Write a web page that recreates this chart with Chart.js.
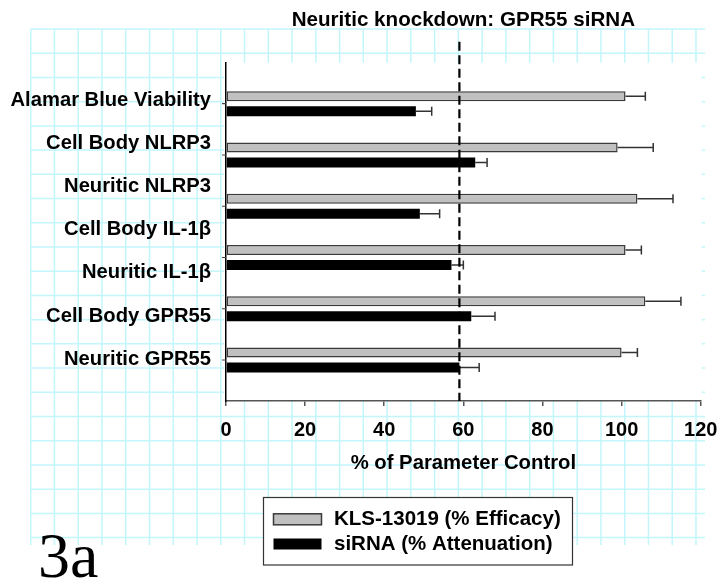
<!DOCTYPE html>
<html>
<head>
<meta charset="utf-8">
<script src="https://cdn.jsdelivr.net/npm/chart.js@4.4.1/dist/chart.umd.min.js"></script>
<style>
html,body{margin:0;padding:0;background:#fff;}
#wrap{width:718px;height:584px;position:relative;}
canvas{display:block;}
</style>
</head>
<body>
<div id="wrap"><canvas id="c" width="718" height="584"></canvas></div>
<script>
// ---- data ----
const categoryLabels = ['Alamar Blue Viability', 'Cell Body NLRP3', 'Neuritic NLRP3', 'Cell Body IL-1\u03B2', 'Neuritic IL-1\u03B2', 'Cell Body GPR55', 'Neuritic GPR55'];
const barGroups = [0, 1, 2, 3, 4, 5];
const klsValues = [101, 99, 104, 101, 106, 100];
const klsErrors = [5, 9, 9, 4, 9, 4];
const sirnaValues = [48, 63, 49, 57, 62, 59];
const sirnaErrors = [4, 3, 5, 3, 6, 5];
const xTicks = [0, 20, 40, 60, 80, 100, 120];
const referenceLine = 59;
const seriesNames = ['KLS-13019 (% Efficacy)', 'siRNA (% Attenuation)'];
const chartTitle = 'Neuritic knockdown: GPR55 siRNA';
const xAxisTitle = '% of Parameter Control';
const panelLabel = '3a';

const FAMILY = '"Liberation Sans", Arial, sans-serif';
const boldFont = (size) => ({ family: FAMILY, size: size, weight: 'bold' });

const errorSets = [klsErrors, sirnaErrors];

const gridBackground = {
  id: 'gridBackground',
  beforeDraw(chart) {
    const ctx = chart.ctx;
    ctx.save();
    ctx.fillStyle = '#ffffff';
    ctx.fillRect(0, 0, chart.width, chart.height);
    ctx.strokeStyle = '#c2f6fb';
    ctx.lineWidth = 1.5;
    const x0 = 30.7, y0 = 29, x1 = 705, y1 = 545, dx = 23.76, dy = 24.22;
    ctx.beginPath();
    for (let x = x0; x <= x1; x += dx) { ctx.moveTo(x, y0); ctx.lineTo(x, y1); }
    for (let y = y0; y <= y1; y += dy) { ctx.moveTo(x0, y); ctx.lineTo(x1, y); }
    ctx.stroke();
    const a = chart.chartArea;
    ctx.fillStyle = '#ffffff';
    ctx.fillRect(a.left - 2, a.top, a.right - a.left + 3, a.bottom - a.top);
    ctx.restore();
  }
};

const overlays = {
  id: 'overlays',
  afterDatasetsDraw(chart) {
    const ctx = chart.ctx;
    const xs = chart.scales.x, ys = chart.scales.y;
    const a = chart.chartArea;
    ctx.save();
    // error bars
    ctx.strokeStyle = '#333';
    ctx.lineWidth = 1.5;
    chart.data.datasets.forEach((ds, d) => {
      const meta = chart.getDatasetMeta(d);
      meta.data.forEach((bar, i) => {
        const v = ds.data[i].x;
        const ex = xs.getPixelForValue(v + errorSets[d][i]);
        ctx.beginPath();
        ctx.moveTo(bar.x, bar.y);
        ctx.lineTo(ex, bar.y);
        ctx.moveTo(ex, bar.y - 4.5);
        ctx.lineTo(ex, bar.y + 4.5);
        ctx.stroke();
      });
    });
    // y tick marks at bar groups
    ctx.strokeStyle = '#444';
    ctx.lineWidth = 1.2;
    ctx.beginPath();
    barGroups.forEach(g => {
      const py = ys.getPixelForValue(g);
      ctx.moveTo(a.left - 4, py);
      ctx.lineTo(a.left, py);
    });
    ctx.stroke();
    // dashed reference line
    const rx = xs.getPixelForValue(referenceLine);
    ctx.strokeStyle = '#000';
    ctx.lineWidth = 2.2;
    ctx.setLineDash([9, 4.5]);
    ctx.beginPath();
    ctx.moveTo(rx, a.top - 21);
    ctx.lineTo(rx, a.bottom);
    ctx.stroke();
    ctx.restore();
  },
  afterDraw(chart) {
    const ctx = chart.ctx;
    ctx.save();
    // legend box
    const bx = 263.5, by = 497.5, bw = 309, bh = 67.5;
    ctx.fillStyle = '#fff';
    ctx.fillRect(bx, by, bw, bh);
    ctx.strokeStyle = '#333';
    ctx.lineWidth = 1.2;
    ctx.strokeRect(bx, by, bw, bh);
    const rows = [519.3, 544];
    chart.data.datasets.forEach((ds, d) => {
      const cy = rows[d];
      ctx.fillStyle = ds.backgroundColor;
      ctx.fillRect(273.5, cy - 5.5, 48, 11);
      if (ds.borderWidth) {
        ctx.strokeStyle = ds.borderColor;
        ctx.lineWidth = 1.5;
        ctx.strokeRect(273.5, cy - 5.5, 48, 11);
      }
      ctx.fillStyle = '#000';
      ctx.font = 'bold 20.5px ' + FAMILY;
      ctx.textBaseline = 'middle';
      ctx.textAlign = 'left';
      ctx.fillText(ds.label, 334, cy);
    });
    // panel label
    ctx.fillStyle = '#000';
    ctx.font = '64px "Liberation Serif", "Times New Roman", serif';
    ctx.textBaseline = 'alphabetic';
    ctx.textAlign = 'left';
    ctx.fillText(panelLabel, 38, 577);
    ctx.restore();
  }
};

new Chart(document.getElementById('c'), {
  type: 'bar',
  data: {
    datasets: [
      {
        label: seriesNames[0],
        data: klsValues.map((v, i) => ({ x: v, y: barGroups[i] })),
        backgroundColor: '#c0c0c0',
        borderColor: '#3a3a3a',
        borderWidth: 1.5,
        borderSkipped: false,
        xAxisID: 'x', yAxisID: 'y'
      },
      {
        label: seriesNames[1],
        data: sirnaValues.map((v, i) => ({ x: v, y: barGroups[i] })),
        backgroundColor: '#000000',
        borderColor: '#000000',
        borderWidth: 0,
        borderSkipped: false,
        xAxisID: 'x', yAxisID: 'y'
      }
    ]
  },
  options: {
    responsive: false,
    animation: false,
    devicePixelRatio: 1,
    indexAxis: 'y',
    categoryPercentage: 0.58,
    barPercentage: 0.67,
    layout: { padding: { left: 0, right: 0, top: 0, bottom: 0 } },
    plugins: {
      legend: { display: false },
      tooltip: { enabled: false },
      title: {
        display: true, text: chartTitle, fullSize: false,
        font: boldFont(20.6), color: '#000',
        padding: { top: 8, bottom: 30 }
      }
    },
    scales: {
      x: {
        type: 'linear', position: 'bottom', min: 0, max: 120, offset: false,
        afterBuildTicks: s => { s.ticks = xTicks.map(v => ({ value: v })); },
        ticks: { font: boldFont(20), color: '#000', padding: 12 },
        grid: { drawOnChartArea: false, drawTicks: true, tickLength: 5, color: '#555', lineWidth: 1.5, offset: false },
        border: { color: '#555', width: 1.5 },
        title: { display: true, text: xAxisTitle, font: boldFont(20.3), color: '#000', padding: { top: 0, bottom: 108 } },
        afterFit: s => { s.height = 183; s.paddingLeft = 0; s.paddingRight = 17.3; }
      },
      y: {
        type: 'linear', display: false, reverse: true, min: -0.8, max: 5.8, offset: false,
        grid: { offset: false },
        afterBuildTicks: s => { s.ticks = barGroups.map(v => ({ value: v })); }
      },
      y2: {
        type: 'linear', position: 'left', reverse: true, min: -0.87, max: 6.97, offset: false,
        afterBuildTicks: s => { s.ticks = categoryLabels.map((_, i) => ({ value: i })); },
        ticks: { autoSkip: false, callback: (v) => categoryLabels[v], font: boldFont(20.2), color: '#000', padding: 7 },
        grid: { display: false, offset: false },
        border: { display: true, color: '#000', width: 1.5 },
        afterFit: s => { s.width = 226; s.paddingTop = 0; s.paddingBottom = 0; }
      }
    }
  },
  plugins: [gridBackground, overlays]
});
</script>
</body>
</html>
